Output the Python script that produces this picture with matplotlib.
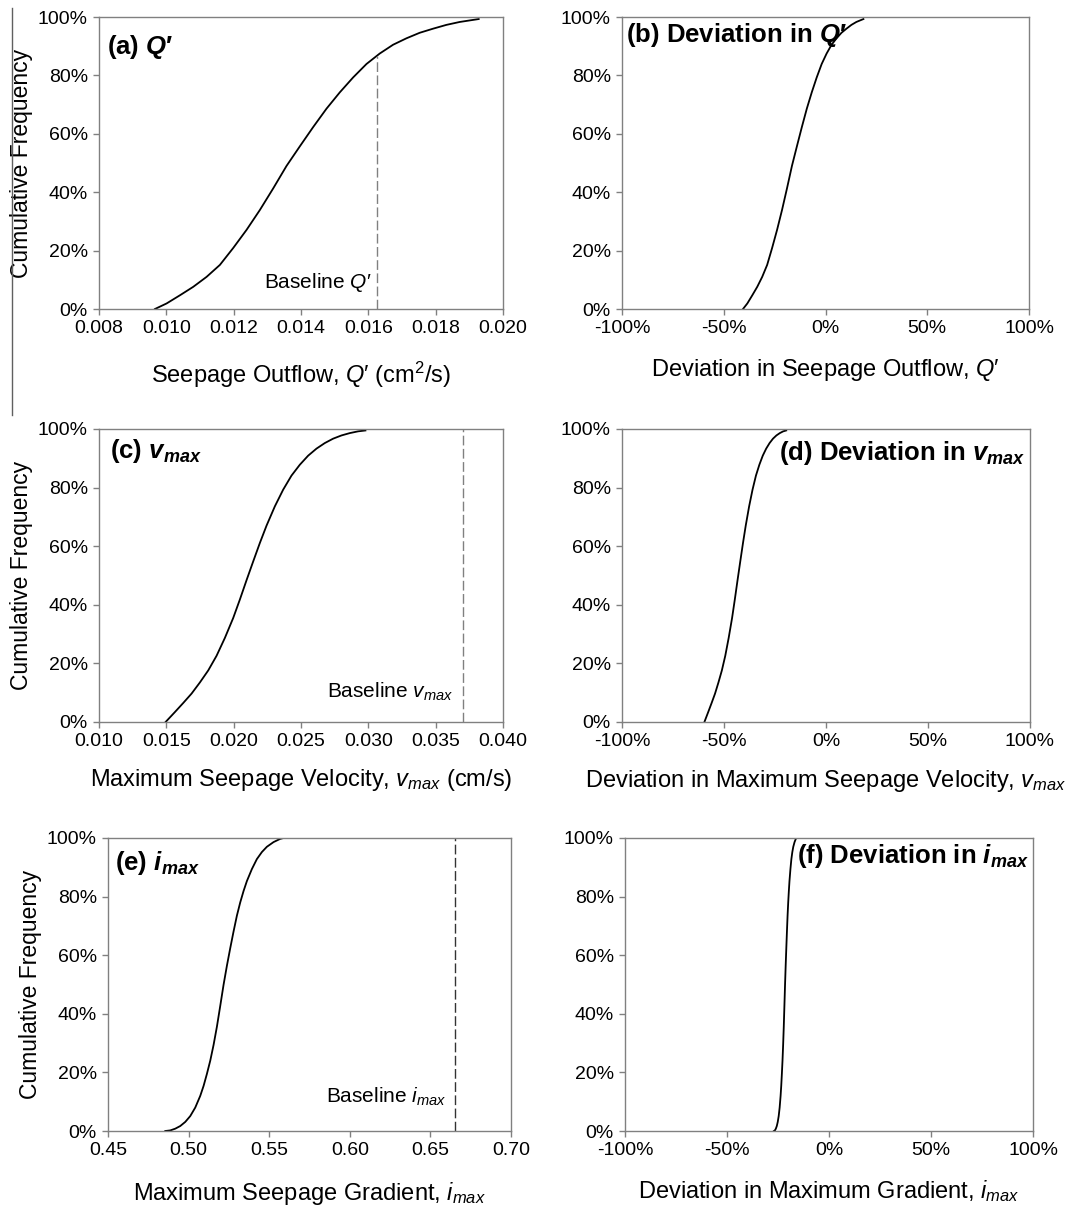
import numpy as np
import matplotlib
matplotlib.use("Agg")
import matplotlib.pyplot as plt
from matplotlib.ticker import FormatStrFormatter, FuncFormatter
from matplotlib.lines import Line2D

plt.rcParams['font.family'] = ['Liberation Sans', 'DejaVu Sans']
plt.rcParams['mathtext.fontset'] = 'custom'
plt.rcParams['mathtext.rm'] = 'Liberation Sans'
plt.rcParams['mathtext.it'] = 'Liberation Sans:italic'
plt.rcParams['mathtext.bf'] = 'Liberation Sans:bold:italic'
plt.rcParams['axes.unicode_minus'] = False

# cumulative frequency curves (y in %)
q_x = [0.009662, 0.010008, 0.010404, 0.010800, 0.011195, 0.011591, 0.011987,
       0.012383, 0.012778, 0.013174, 0.013570, 0.013965, 0.014361, 0.014757,
       0.015153, 0.015548, 0.015944, 0.016340, 0.016735, 0.017131, 0.017527,
       0.017923, 0.018318, 0.018714, 0.019278]
q_y = [0, 1.9, 4.7, 7.6, 11.0, 15.1, 20.9, 27.1, 33.9, 41.3, 49.0, 55.7, 62.3,
       68.6, 74.2, 79.3, 83.9, 87.5, 90.5, 92.7, 94.6, 96.0, 97.3, 98.3, 99.3]
q_base = 0.01625

v_x = [0.014946, 0.015638, 0.016257, 0.016875, 0.017493, 0.018111, 0.018730,
       0.019348, 0.019966, 0.020461, 0.020956, 0.021450, 0.021945, 0.022439,
       0.023058, 0.023676, 0.024294, 0.024912, 0.025531, 0.026149, 0.026767,
       0.027385, 0.028004, 0.028622, 0.029240, 0.029785]
v_y = [0, 3.4, 6.5, 9.7, 13.5, 17.6, 22.6, 28.7, 35.5, 41.8, 48.4, 54.8, 61.1,
       67.0, 73.6, 79.3, 84.1, 87.8, 90.9, 93.3, 95.2, 96.7, 97.8, 98.6, 99.2, 99.5]
v_base = 0.037

i_x = [0.48554, 0.48864, 0.49174, 0.49483, 0.49793, 0.50103, 0.50413, 0.50723,
       0.50930, 0.51136, 0.51343, 0.51550, 0.51756, 0.51963, 0.52169, 0.52376,
       0.52583, 0.52789, 0.52996, 0.53202, 0.53409, 0.53616, 0.53926, 0.54235,
       0.54545, 0.54855, 0.55268, 0.55682, 0.55888]
i_y = [0, 0.2, 0.8, 1.7, 3.1, 5.1, 8.0, 12.0, 15.4, 19.5, 24.0, 29.4, 35.6, 42.7,
       49.9, 56.4, 62.4, 68.1, 73.5, 78.0, 81.9, 85.3, 89.4, 92.8, 95.2, 97.0,
       98.6, 99.7, 100]
i_base = 0.665

# deviation from the baseline value, in %
dq_x = [(x / q_base - 1) * 100 for x in q_x]
dv_x = [(x / v_base - 1) * 100 for x in v_x]
di_x = [(x / i_base - 1) * 100 for x in i_x]

W, H = 1075, 1209
fig = plt.figure(figsize=(W / 100, H / 100), dpi=100)

def px_axes(left, top, right, bottom):
    return fig.add_axes([left / W, 1 - bottom / H, (right - left) / W, (bottom - top) / H])

GREY = '#808080'
pct = FuncFormatter(lambda v, p: '%d%%' % round(v))

def style(ax, xlim, xticks, xfmt, xlabel, pad, ylabel=None, ylx=None):
    ax.set_xlim(*xlim)
    ax.set_ylim(0, 100)
    ax.set_xticks(xticks)
    ax.set_yticks(range(0, 101, 20))
    ax.xaxis.set_major_formatter(xfmt)
    ax.yaxis.set_major_formatter(pct)
    for s in ax.spines.values():
        s.set_color(GREY)
        s.set_linewidth(1)
    ax.tick_params(direction='out', length=4, width=1, color=GREY,
                   labelsize=14, pad=4)
    ax.set_xlabel(xlabel, fontsize=17, labelpad=pad)
    if ylabel:
        ax.set_ylabel(ylabel, fontsize=16.5)
        ax.yaxis.set_label_coords(ylx, 0.5)

axa = px_axes(99, 17, 503, 309)
axb = px_axes(622, 17, 1029, 309)
axc = px_axes(99, 429, 503, 722)
axd = px_axes(622, 429, 1030, 722)
axe = px_axes(108, 838, 511, 1131)
axf = px_axes(625, 838, 1033, 1131)

LW = 1.3
LBL = 18.5

# (a)
axa.plot(q_x, q_y, color='black', lw=LW)
axa.plot([q_base, q_base], [0, np.interp(q_base, q_x, q_y)], color=GREY,
         lw=1, dashes=(7, 2.5))
axa.annotate("Baseline $Q$′", xy=(q_base, 7.2), xytext=(-4, 0),
             textcoords='offset points', ha='right', va='baseline', fontsize=15)
axa.text(0.02, 0.873, "(a) $\\mathbf{Q}$′", transform=axa.transAxes,
         fontsize=LBL, fontweight='bold', va='baseline')
style(axa, (0.008, 0.020), np.arange(0.008, 0.0201, 0.002), FormatStrFormatter('%.3f'),
      "Seepage Outflow, $Q$′ (cm$^2$/s)", 16, "Cumulative Frequency", -0.163)

# (b)
axb.plot(dq_x, q_y, color='black', lw=LW)
axb.text(0.01, 0.914, "(b) Deviation in $\\mathbf{Q}$′", transform=axb.transAxes,
         fontsize=LBL, fontweight='bold', va='baseline')
style(axb, (-100, 100), range(-100, 101, 50), pct,
      "Deviation in Seepage Outflow, $Q$′", 14)

# (c)
axc.plot(v_x, v_y, color='black', lw=LW)
axc.axvline(v_base, color=GREY, lw=1, dashes=(7, 2.5))
axc.annotate("Baseline $v_{max}$", xy=(v_base, 8.2), xytext=(-7, 0),
             textcoords='offset points', ha='right', va='baseline', fontsize=15)
axc.text(0.027, 0.90, "(c) $\\mathbf{v_{max}}$", transform=axc.transAxes,
         fontsize=LBL, fontweight='bold', va='baseline')
style(axc, (0.010, 0.040), np.arange(0.010, 0.0401, 0.005), FormatStrFormatter('%.3f'),
      "Maximum Seepage Velocity, $v_{max}$ (cm/s)", 12, "Cumulative Frequency", -0.163)

# (d)
axd.plot(dv_x, v_y, color='black', lw=LW)
axd.text(0.988, 0.894, "(d) Deviation in $\\mathbf{v_{max}}$", transform=axd.transAxes,
         fontsize=LBL, fontweight='bold', va='baseline', ha='right')
style(axd, (-100, 100), range(-100, 101, 50), pct,
      "Deviation in Maximum Seepage Velocity, $v_{max}$", 13)

# (e)
axe.plot(i_x, i_y, color='black', lw=LW)
axe.axvline(i_base, color='#333333', lw=1, dashes=(7, 2.5))
axe.annotate("Baseline $i_{max}$", xy=(i_base, 9.5), xytext=(-6, 0),
             textcoords='offset points', ha='right', va='baseline', fontsize=15)
axe.text(0.017, 0.89, "(e) $\\mathbf{i_{max}}$", transform=axe.transAxes,
         fontsize=LBL, fontweight='bold', va='baseline')
style(axe, (0.45, 0.70), np.arange(0.45, 0.701, 0.05), FormatStrFormatter('%.2f'),
      "Maximum Seepage Gradient, $i_{max}$", 15, "Cumulative Frequency", -0.164)

# (f)
axf.plot(di_x, i_y, color='black', lw=LW)
axf.text(0.99, 0.915, "(f) Deviation in $\\mathbf{i_{max}}$", transform=axf.transAxes,
         fontsize=LBL, fontweight='bold', va='baseline', ha='right')
style(axf, (-100, 100), range(-100, 101, 50), pct,
      "Deviation in Maximum Gradient, $i_{max}$", 14)

# stray vertical rule at the left edge of the original
fig.add_artist(Line2D([12 / W, 12 / W], [1 - 8 / H, 1 - 415 / H], color='#606060', lw=1))

fig.savefig("out.png", dpi=100)
